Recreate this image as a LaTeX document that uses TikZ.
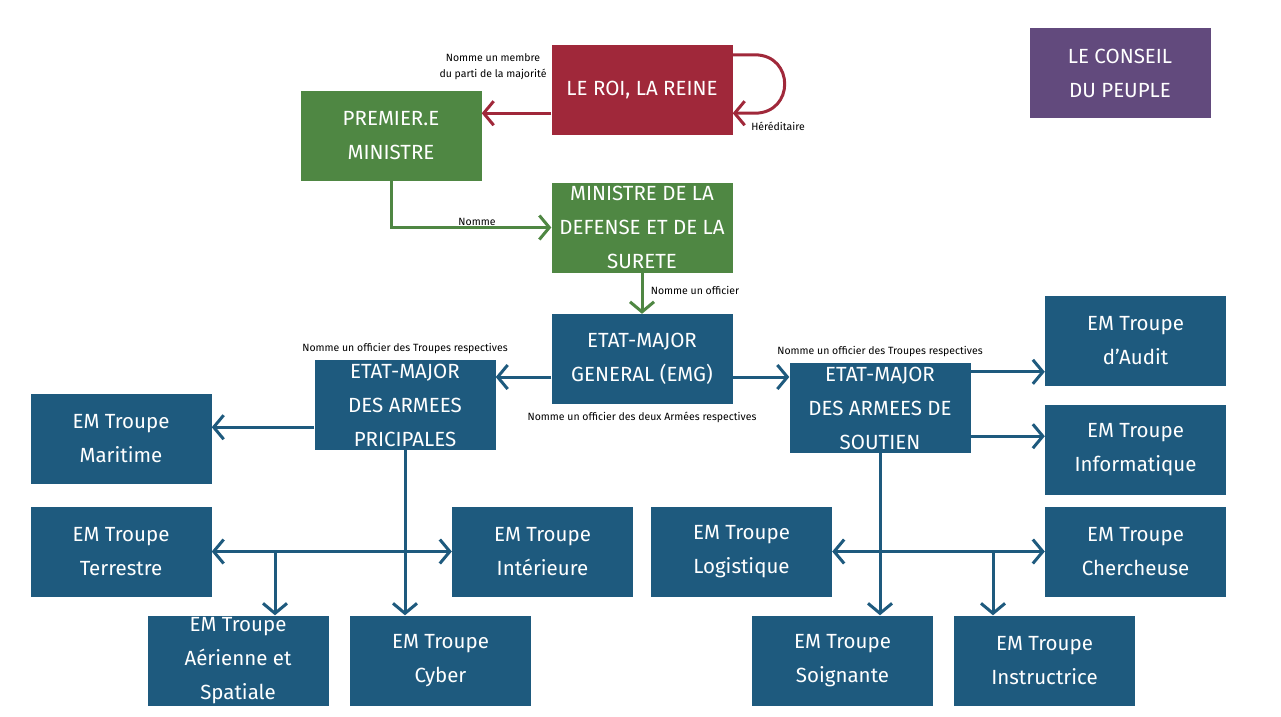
\documentclass[tikz,border=0pt]{standalone}
\usepackage{fontspec}
\setmainfont{Fira Sans}
\usetikzlibrary{arrows.meta,positioning}
\definecolor{roix}{HTML}{A0283A}
\definecolor{vertx}{HTML}{4F8743}
\definecolor{bleux}{HTML}{1E5A7E}
\definecolor{violx}{HTML}{624A7D}
\tikzset{
  box/.style={fill=#1,text=white,minimum width=181pt,minimum height=90pt,align=center,
    font=\fontsize{20.5}{34}\selectfont,inner sep=0pt},
  box/.default=bleux,
  ar/.style={-{Straight Barb[length=10pt,width=24pt,line width=3pt]},line width=3pt,draw=#1},
  ar/.default=bleux,
  dar/.style={{Straight Barb[length=10pt,width=24pt,line width=3pt]}-{Straight Barb[length=10pt,width=24pt,line width=3pt]},line width=3pt,draw=bleux},
  lbl/.style={font=\fontsize{10.5}{16}\selectfont,align=center,inner sep=1pt}
}
\begin{document}
\begin{tikzpicture}[x=1pt,y=-1pt]
\useasboundingbox (0,0) rectangle (1281,716);
% boites du haut
\node[box=roix] (roi) at (642,90) {LE ROI, LA REINE};
\node[box=vertx] (prem) at (391,136) {PREMIER.E\\MINISTRE};
\node[box=violx] (conseil) at (1120,73) {LE CONSEIL\\DU PEUPLE};
\node[box=vertx] (min) at (642,227.5) {MINISTRE DE LA\\DEFENSE ET DE LA\\SURETE};
\node[box] (emg) at (642,359) {ETAT-MAJOR\\GENERAL (EMG)};
% etats-majors
\node[box] (princ) at (405,405) {ETAT-MAJOR\\DES ARMEES\\PRICIPALES};
\node[box] (sout) at (880,408) {ETAT-MAJOR\\DES ARMEES DE\\SOUTIEN};
% troupes
\node[box] (audit) at (1135.5,341) {EM Troupe\\d'Audit};
\node[box] (info) at (1135.5,450) {EM Troupe\\Informatique};
\node[box] (mari) at (121,439) {EM Troupe\\Maritime};
\node[box] (terr) at (121,551.5) {EM Troupe\\Terrestre};
\node[box] (inter) at (542.5,551.5) {EM Troupe\\Intérieure};
\node[box] (aer) at (238,660.5) {EM Troupe\\Aérienne et\\Spatiale};
\node[box] (cyber) at (440.5,660.5) {EM Troupe\\Cyber};
\node[box] (logi) at (741.5,551.5) {EM Troupe\\Logistique};
\node[box] (cherch) at (1135.5,551.5) {EM Troupe\\Chercheuse};
\node[box] (soig) at (842.5,660.5) {EM Troupe\\Soignante};
\node[box] (instr) at (1044.5,660.5) {EM Troupe\\Instructrice};
% liens
\draw[ar=roix] ([yshift=22pt]roi.south west) -- ([yshift=22pt]roi.south west -| prem.east);
\draw[ar=roix] ([yshift=-10pt]roi.north east) -- ++(22,0)
  .. controls +(40,0) and +(40,0) .. ([xshift=22pt,yshift=22pt]roi.south east) -- ([yshift=22pt]roi.south east);
\draw[ar=vertx] (prem.south) |- (min.west);
\draw[ar=vertx] (min.south) -- (emg.north);
\coordinate (yemg) at (0,377);
\draw[ar] (emg.west |- yemg) -- (princ.east |- yemg);
\draw[ar] (emg.east |- yemg) -- (sout.west |- yemg);
\draw[ar] ([yshift=23pt]princ.south west) -- ([yshift=23pt]princ.south west -| mari.east);
\draw[ar] (princ.south) -- (princ.south |- cyber.north);
\draw[dar] (terr.east) -- (inter.west);
\coordinate (jaer) at (275,551.5);
\draw[ar] (jaer) -- (jaer |- aer.north);
\draw[ar] ([yshift=-9pt]sout.north east) -- ([yshift=-9pt]sout.north east -| audit.west);
\draw[ar] ([yshift=17pt]sout.south east) -- ([yshift=17pt]sout.south east -| info.west);
\draw[ar] (sout.south) -- (sout.south |- soig.north);
\draw[dar] (logi.east) -- (cherch.west);
\coordinate (jinstr) at (993,551.5);
\draw[ar] (jinstr) -- (jinstr |- instr.north);
% textes
\node[lbl] (tmembre) at (493,67) {Nomme un membre\\du parti de la majorité};
\node[lbl] (there) at (778,126) {Héréditaire};
\node[lbl] (tnomme) at (477,222) {Nomme};
\node[lbl] (toff) at (695,290) {Nomme un officier};
\node[lbl] (tprinc) at (405,349) {Nomme un officier des Troupes respectives};
\node[lbl] (tsout) at (880,352) {Nomme un officier des Troupes respectives};
\node[lbl] (tdeux) at (642,417) {Nomme un officier des deux Armées respectives};
\end{tikzpicture}
\end{document}
